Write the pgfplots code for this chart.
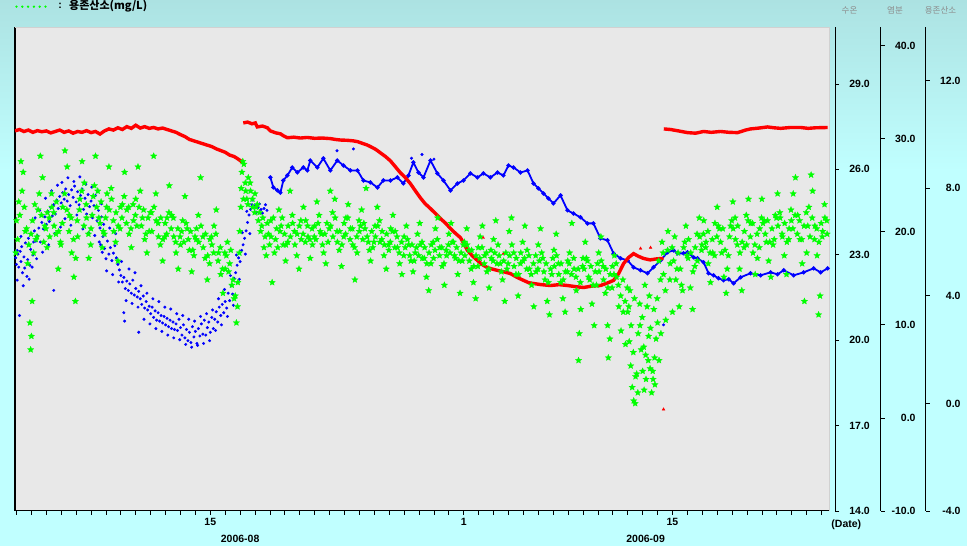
\documentclass[border=0pt]{standalone}
\usepackage{fontspec}
\setmainfont{Liberation Sans}
\newfontfamily\kr{Noto Sans CJK KR}
\usepackage{pgfplots}
\pgfplotsset{compat=1.18}

\definecolor{bgtop}{RGB}{172,226,226}
\definecolor{bgbot}{RGB}{192,255,255}
\definecolor{plotbg}{RGB}{232,232,232}
\definecolor{gcol}{RGB}{0,255,0}
\definecolor{bcol}{RGB}{0,0,255}
\definecolor{rcol}{RGB}{255,0,0}
\newcommand{\tkfont}{\fontsize{10.5}{12}\selectfont\bfseries}

\pgfdeclareplotmark{fstar}{%
  \pgfpathmoveto{\pgfqpoint{0pt}{\pgfplotmarksize}}%
  \pgfpathlineto{\pgfqpoint{-0.265\pgfplotmarksize}{0.364\pgfplotmarksize}}%
  \pgfpathlineto{\pgfqpoint{-0.951\pgfplotmarksize}{0.309\pgfplotmarksize}}%
  \pgfpathlineto{\pgfqpoint{-0.428\pgfplotmarksize}{-0.139\pgfplotmarksize}}%
  \pgfpathlineto{\pgfqpoint{-0.588\pgfplotmarksize}{-0.809\pgfplotmarksize}}%
  \pgfpathlineto{\pgfqpoint{0pt}{-0.45\pgfplotmarksize}}%
  \pgfpathlineto{\pgfqpoint{0.588\pgfplotmarksize}{-0.809\pgfplotmarksize}}%
  \pgfpathlineto{\pgfqpoint{0.428\pgfplotmarksize}{-0.139\pgfplotmarksize}}%
  \pgfpathlineto{\pgfqpoint{0.951\pgfplotmarksize}{0.309\pgfplotmarksize}}%
  \pgfpathlineto{\pgfqpoint{0.265\pgfplotmarksize}{0.364\pgfplotmarksize}}%
  \pgfpathclose
  \pgfusepathqfillstroke}

\pgfplotsset{
  base/.style={at={(0pt,0pt)}, anchor=south west, width=814pt, height=484pt,
    scale only axis, xmin=1.9, xmax=56.5},
  rax/.style={base, hide x axis, axis y line*=right,
    axis line style={-,black,line width=1pt},
    tick align=outside, major tick length=4pt,
    ytick style={black,line width=0.8pt},
    yticklabel style={font=\tkfont, anchor=east, inner sep=0pt, xshift=31pt}},
  gstar/.style={only marks, gcol, mark=fstar, mark size=3.4pt,
    mark options={fill=gcol, draw=gcol, line width=0.2pt}},
}

\begin{document}
\begin{tikzpicture}
\useasboundingbox (-15pt,-35pt) rectangle (952pt,511pt);
\fill[bgbot] (-15pt,-35pt) rectangle (952pt,511pt);
\shade[top color=bgtop, bottom color=bgbot] (-15pt,340pt) rectangle (952pt,511pt);

% frame axis
\begin{axis}[base, clip=false, ymin=14, ymax=31,
  axis x line*=bottom, axis y line*=left,
  axis line style={-,black,line width=1pt},
  axis background/.style={fill=plotbg},
  ytick=\empty, xtick={2,...,56}, xticklabels={},
  tick align=outside, major tick length=4pt,
  xtick style={black,line width=0.8pt},
  extra x ticks={15,32,46}, extra x tick labels={15,1,15},
  xticklabel style={font=\tkfont}]
\draw[black!18] (rel axis cs:0,1) -- (rel axis cs:1,1) -- (rel axis cs:1,0);
\node[font=\tkfont] at ([yshift=-28pt]axis cs:17,14) {2006-08};
\node[font=\tkfont] at ([yshift=-28pt]axis cs:44.2,14) {2006-09};
\end{axis}

% salinity (blue)
\begin{axis}[base, hide axis, ymin=-10, ymax=42]
\addplot[bcol, line width=1.8pt, mark=*, mark size=1.1pt] coordinates {
(19.03,25.84)(19.23,24.76)(19.50,24.44)(19.70,24.2)(19.90,25.51)(20.17,26.05)(20.50,26.91)(20.84,26.37)(21.24,26.91)(21.51,26.59)(21.71,27.66)(22.18,26.91)(22.58,27.88)(23.05,26.59)(23.52,27.66)(23.93,27.12)(24.40,26.59)(24.87,26.59)(25.27,25.51)(25.74,25.30)(26.21,24.76)(26.61,25.51)(27.08,25.51)(27.55,25.84)(27.95,25.19)(28.29,26.05)(28.62,27.45)(28.96,26.37)(29.30,25.84)(29.77,27.66)(30.23,26.27)(30.64,25.51)(31.11,24.44)(31.58,25.19)(31.98,25.51)(32.45,26.27)(32.92,25.84)(33.32,26.27)(33.79,25.84)(34.26,26.37)(34.66,26.05)(35.00,27.12)(35.34,26.91)(35.81,26.37)(36.28,26.59)(36.68,25.19)(37.01,24.66)(37.35,24.12)(37.68,23.58)(38.02,23.05)(38.49,23.91)(38.96,22.30)(39.36,21.97)(39.83,21.55)(40.30,20.90)(40.70,20.90)(41.17,19.29)(41.64,19.08)(42.05,17.68)(42.52,17.15)(42.99,16.93)(43.39,16.18)(43.86,15.86)(44.33,15.54)(44.73,16.18)(45.20,16.93)(45.67,17.79)(46.07,18.00)(46.34,17.68)(46.74,17.68)(47.01,17.79)(47.42,17.25)(47.68,17.15)(48.09,16.72)(48.42,15.54)(48.76,15.32)(49.09,15.0)(49.43,14.79)(49.77,14.9)(50.10,14.46)(50.57,15.11)(51.24,15.54)(51.91,15.32)(52.58,15.64)(53.05,15.43)(53.46,15.86)(54.13,15.32)(54.80,15.64)(55.47,16.07)(55.94,15.64)(56.41,16.07)};
\addplot[only marks, bcol, mark=*, mark size=1.3pt] coordinates {
(1.95,17.2)(2.0,16.5)(2.05,18.0)(2.1,17.6)(2.15,16.2)(2.2,11.0)(2.25,17.9)(2.3,16.8)
(2.35,18.4)(2.4,15.6)(2.5,17.3)(2.55,16.1)(2.6,18.8)(2.7,15.2)(2.75,17.0)(2.8,19.3)(2.9,16.4)(2.95,18.1)(3.0,19.8)(3.1,17.5)(3.15,18.9)(3.2,20.1)(3.3,19.0)
(3.4,19.6)(3.5,20.4)(3.6,18.9)(3.7,21.0)(3.8,20.3)(3.9,21.6)(4.0,20.8)(4.1,22.2)(4.2,21.1)(4.3,22.6)(4.4,21.7)(4.5,22.9)(4.5,13.7)(4.6,21.9)(4.7,23.4)(4.8,22.5)(4.9,23.8)
(5.0,23.1)(5.1,24.2)(5.2,23.5)(5.3,24.6)(5.4,23.3)(5.5,24.0)(5.6,22.8)(5.7,24.5)(5.8,23.7)(5.9,24.9)(6.0,23.2)(6.1,24.3)(6.2,22.9)(6.3,23.9)(6.4,24.6)(6.5,22.4)(6.6,23.6)(6.7,21.9)(6.8,24.0)(6.9,22.7)(7.0,23.3)(7.1,21.5)(7.2,22.8)(7.3,23.9)(7.4,21.2)(7.5,22.3)
(7.6,20.4)(7.65,18.6)(7.7,21.6)(7.75,17.8)(7.8,19.5)(7.9,18.2)(8.0,17.1)(8.1,19.0)(8.2,17.6)(8.3,18.3)(8.4,16.9)(8.5,17.7)(8.6,18.5)(8.7,17.2)(8.8,16.5)(8.9,15.9)
(9.0,15.3)(9.1,14.6)(9.2,15.1)(9.2,11.3)(9.25,10.4)(9.3,13.9)(9.4,14.7)(9.5,13.7)(9.6,14.4)(9.7,13.4)(9.8,14.8)(9.9,13.2)(10.0,13.9)(10.1,13.0)(10.2,13.6)(10.2,9.2)
(10.3,12.8)(10.4,12.2)(10.5,13.1)(10.6,11.8)(10.7,12.5)(10.8,11.6)(10.9,12.0)(11.0,11.2)(11.1,11.9)(11.2,10.8)(11.3,11.5)(11.4,10.5)(11.5,11.3)(11.6,10.4)(11.7,11.0)(11.8,10.2)(11.9,10.9)(12.0,10.0)(12.1,10.7)(12.2,9.8)(12.3,10.5)(12.4,9.6)(12.5,10.3)(12.6,9.5)(12.7,10.1)(12.8,9.4)(12.9,10.6)
(13.0,9.7)(13.1,8.9)(13.2,10.0)(13.3,8.6)(13.4,9.5)(13.5,8.3)(13.6,9.2)(13.7,8.1)(13.8,9.8)(13.9,8.7)(14.0,9.3)(14.1,8.0)(14.2,9.6)
(14.3,8.8)(14.4,10.1)(14.5,9.0)(14.6,10.5)(14.7,8.9)(14.8,9.7)(14.9,10.3)(15.0,9.2)(15.1,10.8)(15.2,9.6)
(15.3,10.6)(15.4,11.4)(15.5,10.3)(15.6,11.9)(15.7,11.0)(15.8,12.2)(15.9,11.3)
(16.0,12.5)(16.1,11.8)(16.2,13.4)(16.3,12.6)(16.4,14.2)(16.5,13.3)(16.6,15.0)
(16.7,15.6)(16.8,16.4)(16.9,17.2)(17.0,16.8)(17.1,18.0)(17.2,18.6)
(17.3,19.3)(17.4,20.1)(17.5,21.0)(17.6,21.8)(17.7,22.4)(17.8,22.9)(17.9,22.6)
(18.0,22.8)(18.2,22.6)(18.4,22.4)(18.6,22.5)(18.8,22.3)
(2.05,14.8)(2.3,19.5)(2.45,14.2)(2.65,20.3)(2.85,14.9)(3.05,16.2)(3.25,21.5)
(3.35,17.1)(3.55,22.3)(3.75,17.8)(3.95,23.6)(4.15,18.6)(4.35,24.4)(4.55,19.8)(4.75,25.0)(4.95,20.5)
(5.05,25.3)(5.25,21.4)(5.45,25.8)(5.65,20.7)(5.85,25.4)(6.05,21.8)(6.25,25.9)(6.45,20.3)(6.65,25.1)(6.85,19.9)(7.05,24.8)(7.25,19.6)(7.45,24.3)(7.55,18.9)
(7.7,23.0)(7.85,20.8)(8.05,15.8)(8.25,20.4)(8.45,15.4)(8.65,19.8)(8.85,14.6)
(9.05,16.8)(9.35,12.6)(9.55,16.0)(9.75,12.3)(9.95,15.6)(10.15,11.9)
(10.35,14.2)(10.55,10.6)(10.75,13.4)(10.95,10.1)(11.15,12.8)(11.35,9.6)(11.55,12.5)(11.75,9.3)(11.95,11.9)(12.15,8.9)(12.35,11.7)(12.55,8.6)(12.75,11.2)(12.95,8.4)
(13.15,11.0)(13.35,7.9)(13.55,10.6)(13.75,7.6)(13.95,10.4)(14.15,7.8)(14.35,10.9)(14.55,8.0)(14.75,11.2)(14.95,8.3)(15.15,11.6)
(15.35,9.4)(15.55,12.8)(15.75,10.0)(15.95,13.8)(16.15,10.9)(16.35,15.3)(16.55,12.1)(16.75,17.5)(16.95,14.9)(17.15,19.9)(17.35,17.6)
(17.45,22.2)(17.65,19.8)(17.85,23.4)(18.1,22.1)(18.3,23.0)(18.5,22.0)(18.7,22.9)
(23.5,28.7)(24.6,28.9)(28.5,27.9)(29.2,28.3)(30.0,27.8)(45.4,10.0)};
\end{axis}

% temperature (red)
\begin{axis}[base, hide axis, ymin=14, ymax=31, unbounded coords=jump]
\addplot[rcol, line width=3.4pt] coordinates {
(1.9,27.35)(2.2,27.40)(2.5,27.33)(2.8,27.38)(3.1,27.30)(3.4,27.36)(3.7,27.32)(4.0,27.35)(4.3,27.28)(4.6,27.33)(4.9,27.38)(5.2,27.30)(5.5,27.35)(5.8,27.27)(6.1,27.33)(6.4,27.30)(6.7,27.36)(7.0,27.29)(7.3,27.33)(7.6,27.24)(7.9,27.35)(8.2,27.42)(8.5,27.38)(8.8,27.46)(9.1,27.40)(9.4,27.50)(9.7,27.44)(10.0,27.55)(10.3,27.45)(10.6,27.50)(10.9,27.44)(11.2,27.47)(11.5,27.42)(11.8,27.45)(12.1,27.40)(12.4,27.35)(12.7,27.30)(13.0,27.22)(13.3,27.15)(13.6,27.05)(13.9,27.00)(14.2,26.95)(14.5,26.90)(14.8,26.85)(15.1,26.80)(15.4,26.72)(15.7,26.66)(16.0,26.60)(16.3,26.50)(16.6,26.45)(16.9,26.35)(17.15,26.25)
(17.18,nan)
(17.21,27.63)(17.5,27.66)(17.8,27.60)(18.02,27.63)(18.15,27.49)(18.5,27.52)(18.83,27.46)(19.03,27.35)(19.4,27.28)(19.7,27.25)(19.9,27.18)(20.17,27.11)(20.6,27.13)(21.04,27.10)(21.5,27.12)(22.0,27.09)(22.5,27.10)(23.05,27.08)(23.4,27.05)(23.72,27.03)(24.2,27.02)(24.6,27.00)(24.9,26.97)(25.27,26.90)(25.5,26.86)(25.74,26.80)(26.1,26.70)(26.41,26.58)(26.75,26.45)(27.08,26.30)(27.4,26.10)(27.75,25.88)(28.1,25.70)(28.42,25.50)(28.75,25.25)(29.09,25.00)(29.4,24.80)(29.77,24.62)(30.1,24.45)(30.44,24.27)(30.8,24.10)(31.11,23.92)(31.45,23.75)(31.78,23.60)(32.0,23.40)(32.25,23.15)(32.6,22.95)(32.92,22.80)(33.25,22.65)(33.59,22.55)(33.9,22.50)(34.26,22.45)(34.7,22.40)(35.13,22.34)(35.6,22.20)(36.01,22.10)(36.35,22.02)(36.68,21.99)(37.2,21.95)(37.82,21.92)(38.4,21.95)(38.96,21.92)(39.5,21.88)(40.03,21.85)(40.6,21.90)(41.17,21.92)(41.6,22.00)(42.05,22.10)(42.4,22.35)(42.72,22.69)(43.05,22.90)(43.39,23.04)(43.7,22.95)(44.06,22.87)(44.5,22.82)(45.0,22.86)(45.40,22.87)
(45.41,nan)
(45.42,27.42)(45.87,27.40)(46.4,27.35)(47.01,27.29)(47.55,27.27)(48.09,27.33)(48.6,27.30)(49.23,27.33)(49.8,27.30)(50.37,27.29)(50.91,27.38)(51.24,27.42)(51.8,27.45)(52.38,27.49)(52.8,27.46)(53.26,27.44)(53.9,27.47)(54.6,27.47)(55.1,27.44)(55.6,27.46)(56.41,27.47)};
\addplot[only marks, rcol, mark=triangle*, mark size=1.6pt] coordinates {
(33.3,23.6)(34.66,23.04)(43.86,23.22)(44.53,23.25)(45.40,17.57)};
\end{axis}

% dissolved oxygen (green)
\begin{axis}[base, hide axis, ymin=-4, ymax=14]
\addplot[gstar] coordinates {
(1.95,5.6)(2.0,6.8)(2.15,7.5)(2.3,9.0)(2.45,8.6)(2.6,6.4)(2.75,5.2)(2.9,3.0)(2.95,2.0)(3.0,2.5)(3.05,3.8)(3.15,5.6)(3.3,6.1)(3.45,7.2)(3.6,9.2)(3.75,8.4)(3.9,6.6)
(4.05,5.8)(4.2,6.9)(4.35,7.8)(4.5,7.1)(4.65,6.3)(4.8,5.0)(4.95,6.0)
(5.1,7.3)(5.25,9.4)(5.4,8.8)(5.55,7.0)(5.7,5.6)(5.85,4.7)(5.95,3.8)
(6.1,6.2)(6.25,7.6)(6.4,9.0)(6.55,8.2)(6.7,6.9)(6.85,5.4)
(7.0,6.5)(7.15,7.7)(7.3,9.2)(7.45,7.9)(7.6,6.7)(7.75,5.8)(7.9,6.3)
(8.05,7.3)(8.2,8.8)(8.35,8.0)(8.5,6.8)(8.65,6.0)(8.8,5.3)(8.95,6.5)
(9.1,7.4)(9.25,8.6)(9.4,7.2)(9.55,6.3)(9.7,5.8)(9.85,6.8)
(10.0,7.6)(10.15,8.8)(10.3,7.9)(10.45,6.9)(10.6,6.1)(10.75,5.6)(10.9,6.4)
(11.05,7.1)(11.2,9.2)(11.35,7.8)(11.5,6.7)(11.65,5.9)(11.8,5.3)(11.95,6.2)
(12.1,6.9)(12.25,8.1)(12.4,7.0)(12.55,6.2)(12.7,5.6)(12.85,5.0)
(13.0,5.9)(13.15,6.8)(13.3,7.7)(13.45,6.5)(13.6,5.7)(13.75,4.9)(13.9,5.5)
(14.05,6.1)(14.2,7.0)(14.35,8.4)(14.5,6.2)(14.65,5.4)(14.8,4.6)(14.95,5.2)
(15.1,5.9)(15.25,6.6)(15.4,7.2)(15.55,5.6)(15.7,4.8)(15.85,4.1)(16.0,5.0)
(16.15,6.0)(16.3,5.2)(16.45,4.4)(16.6,3.9)(16.75,3.0)(16.85,4.5)(16.95,5.6)(17.05,7.3)(17.12,8.6)(17.18,9.0)
(17.25,8.9)(17.35,8.2)(17.45,7.6)(17.55,8.4)(17.7,7.9)(17.85,7.3)
(18.0,7.8)(18.15,7.4)(18.3,7.1)(18.45,6.6)(18.6,5.8)(18.75,5.5)(18.9,6.3)
(19.05,6.8)(19.15,4.5)(19.3,5.6)(19.45,6.5)(19.6,7.2)(19.75,6.6)(19.9,5.9)
(20.05,5.3)(20.2,6.0)(20.35,7.9)(20.5,7.0)(20.65,6.4)(20.8,5.5)(20.95,5.0)
(21.1,6.1)(21.25,7.3)(21.4,6.8)(21.55,6.2)(21.7,5.4)(21.85,5.9)
(22.0,6.6)(22.15,7.5)(22.3,7.0)(22.45,6.3)(22.6,5.6)(22.75,5.2)(22.9,6.0)
(23.05,7.9)(23.2,7.1)(23.35,7.6)(23.5,6.4)(23.65,5.7)(23.8,5.1)(23.95,6.2)
(24.1,6.9)(24.25,7.4)(24.4,6.5)(24.55,5.9)(24.7,4.6)(24.85,5.6)
(25.0,6.4)(25.15,7.2)(25.3,6.7)(25.45,8.0)(25.6,6.0)(25.75,5.3)(25.9,5.8)
(26.05,6.6)(26.2,7.3)(26.35,6.8)(26.5,6.1)(26.65,5.5)(26.8,5.0)(26.95,5.9)
(27.1,6.5)(27.25,7.0)(27.4,6.4)(27.55,5.8)(27.7,5.2)(27.85,4.8)
(28.0,6.2)(28.15,6.6)(28.3,5.9)(28.45,5.3)(28.6,4.9)(28.75,5.6)(28.9,6.3)
(29.05,6.7)(29.2,6.0)(29.35,5.4)(29.5,4.7)(29.65,4.2)(29.8,5.2)(29.95,6.0)
(30.1,6.5)(30.25,6.9)(30.4,5.8)(30.55,5.1)(30.7,4.4)(30.85,5.5)
(31.0,6.3)(31.15,6.7)(31.3,6.0)(31.45,5.4)(31.6,4.8)(31.75,4.1)(31.9,5.3)
(32.05,6.0)(32.2,6.5)(32.35,5.7)(32.5,5.0)(32.65,4.5)(32.8,3.9)(32.95,5.1)
(33.1,6.2)(33.25,6.6)(33.4,5.5)(33.55,4.9)(33.7,4.3)(33.85,5.4)
(34.0,6.1)(34.15,6.8)(34.3,5.9)(34.45,5.2)(34.6,4.6)(34.75,3.8)(34.9,5.0)
(35.05,6.4)(35.2,6.9)(35.35,5.6)(35.5,4.8)(35.65,4.0)(35.8,5.2)(35.95,6.0)
(36.1,6.6)(36.25,5.7)(36.4,5.0)(36.55,4.4)(36.7,3.6)(36.85,4.9)
(37.0,5.9)(37.15,6.5)(37.3,5.4)(37.45,4.6)(37.6,3.8)(37.75,3.3)(37.9,4.8)
(38.05,5.7)(38.2,6.3)(38.35,5.2)(38.5,4.5)(38.65,3.9)(38.8,3.4)(38.95,4.9)
(39.1,5.6)(39.25,6.7)(39.4,5.0)(39.55,4.2)(39.7,1.6)(39.75,2.6)(39.85,3.5)
(40.0,5.4)(40.15,6.0)(40.3,5.3)(40.45,4.6)(40.6,3.7)(40.75,2.9)(40.9,4.4)
(41.05,5.6)(41.2,6.2)(41.35,5.1)(41.5,4.1)(41.65,2.9)(41.7,1.7)(41.8,2.4)(41.95,4.3)
(42.1,5.5)(42.25,4.7)(42.4,3.6)(42.55,2.7)(42.7,3.4)(42.85,2.2)
(43.0,3.4)(43.1,2.3)(43.15,4.2)(43.2,1.4)(43.3,0.6)(43.4,0.1)(43.45,3.9)(43.5,0.0)(43.6,1.1)(43.7,2.6)(43.8,3.7)(43.9,2.0)
(44.0,1.2)(44.1,0.5)(44.15,4.4)(44.2,1.8)(44.3,3.6)(44.4,2.5)(44.45,4.0)(44.5,1.3)(44.6,0.4)(44.7,0.9)(44.75,3.5)(44.8,1.7)(44.9,2.4)
(45.0,3.0)(45.1,1.6)(45.2,4.6)(45.3,6.0)(45.4,4.8)(45.55,3.1)(45.7,6.4)(45.85,5.2)(46.0,3.4)
(46.15,6.2)(46.3,5.0)(46.45,3.6)(46.6,4.4)(46.75,5.8)(46.9,6.6)
(47.05,5.4)(47.2,4.3)(47.35,3.5)(47.5,5.1)(47.65,6.3)(47.8,6.9)(47.95,5.7)
(48.1,6.8)(48.25,6.0)(48.4,5.2)(48.55,4.5)(48.7,5.6)(48.85,6.7)
(49.0,7.3)(49.15,6.5)(49.3,5.6)(49.45,4.7)(49.6,4.1)(49.75,5.5)(49.9,6.6)
(50.05,7.5)(50.2,6.9)(50.35,5.9)(50.5,5.0)(50.65,4.2)(50.8,5.8)(50.95,7.0)
(51.1,7.6)(51.25,6.7)(51.4,5.6)(51.55,4.8)(51.7,5.4)(51.85,6.5)
(52.0,7.6)(52.15,6.8)(52.3,6.0)(52.45,5.3)(52.6,4.7)(52.75,5.9)(52.9,7.0)
(53.05,7.8)(53.2,7.1)(53.35,6.3)(53.5,5.5)(53.65,4.8)(53.8,6.1)(53.95,7.2)
(54.1,7.8)(54.25,8.4)(54.4,7.0)(54.55,6.1)(54.7,5.2)(54.85,3.8)(55.0,5.6)
(55.15,7.3)(55.3,8.5)(55.4,7.9)(55.55,6.6)(55.7,5.5)(55.8,3.3)(55.9,4.0)
(56.05,6.2)(56.2,7.4)(56.35,6.8)};
\addplot[gstar] coordinates {
(2.075,6.1)(2.225,7.0)(2.375,7.9)(2.525,7.3)(2.675,6.5)(2.825,5.9)(2.975,6.3)
(3.075,6.8)(3.225,7.4)(3.375,6.2)(3.525,7.8)(3.675,7.0)(3.825,6.0)(3.975,6.5)
(4.075,7.1)(4.225,6.2)(4.375,7.3)(4.525,6.6)(4.675,7.5)(4.825,6.4)(4.975,5.9)
(5.075,6.7)(5.225,7.8)(5.375,7.2)(5.525,6.4)(5.675,6.9)(5.825,6.1)(5.975,5.4)
(6.075,6.8)(6.225,7.2)(6.375,7.9)(6.525,6.6)(6.675,7.4)(6.825,6.3)(6.975,5.9)
(7.075,7.0)(7.225,8.1)(7.375,7.3)(7.525,6.9)(7.675,7.5)(7.825,6.4)(7.975,6.9)
(8.075,7.8)(8.225,7.2)(8.375,7.6)(8.525,6.4)(8.675,7.1)(8.825,6.6)(8.975,7.3)
(9.075,6.9)(9.225,7.7)(9.375,6.7)(9.525,7.3)(9.675,6.5)(9.825,7.4)(9.975,7.0)
(10.075,6.6)(10.225,7.3)(10.375,6.6)(10.525,7.2)(10.675,6.3)(10.825,6.9)(10.975,7.1)
(11.075,6.4)(11.225,7.3)(11.375,6.8)(11.525,6.2)(11.675,6.9)(11.825,6.1)(11.975,6.7)
(12.075,6.3)(12.225,7.1)(12.375,6.5)(12.525,6.9)(12.675,6.0)(12.825,6.5)(12.975,6.2)
(13.075,6.4)(13.225,6.0)(13.375,6.7)(13.525,6.1)(13.675,6.4)(13.825,5.7)(13.975,6.2)
(14.075,6.5)(14.225,6.0)(14.375,6.6)(14.525,5.8)(14.675,6.3)(14.825,5.5)(14.975,6.1)
(15.075,6.2)(15.225,5.6)(15.375,6.3)(15.525,5.3)(15.675,5.8)(15.825,5.0)(15.975,5.6)
(16.075,5.5)(16.225,4.9)(16.375,5.7)(16.525,4.6)(16.675,4.0)(16.825,3.6)(16.975,6.4)
(17.075,8.0)(17.225,7.6)(17.375,7.9)(17.525,7.4)(17.675,8.2)(17.825,7.6)(17.975,7.1)
(18.075,7.3)(18.225,6.8)(18.375,6.4)(18.525,6.9)(18.675,6.2)(18.825,6.7)(18.975,5.9)
(19.075,6.2)(19.225,6.9)(19.375,6.1)(19.525,5.8)(19.675,6.4)(19.825,6.9)(19.975,6.3)
(20.075,5.9)(20.225,6.6)(20.375,6.2)(20.525,6.7)(20.675,5.9)(20.825,6.3)(20.975,6.6)
(21.075,6.8)(21.225,6.3)(21.375,6.0)(21.525,6.6)(21.675,6.1)(21.825,6.5)(21.975,6.2)
(22.075,6.1)(22.225,6.7)(22.375,6.4)(22.525,5.9)(22.675,6.3)(22.825,6.7)(22.975,6.5)
(23.075,6.6)(23.225,6.2)(23.375,6.9)(23.525,6.0)(23.675,6.4)(23.825,5.9)(23.975,6.7)
(24.075,6.3)(24.225,6.9)(24.375,6.1)(24.525,6.5)(24.675,5.8)(24.825,6.2)(24.975,6.8)
(25.075,6.6)(25.225,6.1)(25.375,6.5)(25.525,6.2)(25.675,5.7)(25.825,6.4)(25.975,6.0)
(26.075,6.2)(26.225,6.6)(26.375,6.0)(26.525,6.4)(26.675,5.9)(26.825,6.3)(26.975,5.7)
(27.075,6.0)(27.225,6.4)(27.375,5.8)(27.525,6.2)(27.675,5.6)(27.825,6.0)(27.975,5.5)
(28.075,5.8)(28.225,6.1)(28.375,5.5)(28.525,5.9)(28.675,5.3)(28.825,5.8)(28.975,5.5)
(29.075,5.9)(29.225,5.4)(29.375,5.8)(29.525,5.2)(29.675,5.6)(29.825,5.9)(29.975,5.4)
(30.075,5.7)(30.225,6.1)(30.375,5.5)(30.525,5.8)(30.675,5.2)(30.825,5.7)(30.975,5.9)
(31.075,5.6)(31.225,6.0)(31.375,5.5)(31.525,5.8)(31.675,5.3)(31.825,5.6)(31.975,5.9)
(32.075,5.5)(32.225,5.9)(32.375,5.3)(32.525,5.7)(32.675,5.1)(32.825,5.5)(32.975,5.8)
(33.075,5.4)(33.225,5.8)(33.375,5.2)(33.525,5.6)(33.675,5.0)(33.825,5.7)(33.975,5.3)
(34.075,5.6)(34.225,5.2)(34.375,5.5)(34.525,4.9)(34.675,5.3)(34.825,5.6)(34.975,5.2)
(35.075,5.5)(35.225,5.9)(35.375,5.1)(35.525,5.4)(35.675,4.8)(35.825,5.6)(35.975,5.3)
(36.075,5.4)(36.225,5.0)(36.375,5.5)(36.525,4.8)(36.675,5.2)(36.825,5.5)(36.975,5.0)
(37.075,5.3)(37.225,5.6)(37.375,4.9)(37.525,5.2)(37.675,4.5)(37.825,5.0)(37.975,5.4)
(38.075,5.1)(38.225,5.5)(38.375,4.8)(38.525,5.2)(38.675,4.6)(38.825,4.9)(38.975,5.3)
(39.075,5.2)(39.225,4.8)(39.375,5.4)(39.525,4.7)(39.675,5.0)(39.825,4.5)(39.975,5.1)
(40.075,5.0)(40.225,5.4)(40.375,4.7)(40.525,5.1)(40.675,4.4)(40.825,4.9)(40.975,5.2)
(41.075,4.9)(41.225,5.3)(41.375,4.6)(41.525,5.0)(41.675,4.3)(41.825,4.8)(41.975,5.1)
(42.075,4.8)(42.225,5.2)(42.375,4.4)(42.525,4.0)(42.675,4.6)(42.825,3.8)(42.975,4.3)
(43.075,3.6)(43.225,2.9)(43.375,1.9)(43.525,1.0)(43.675,0.4)(43.825,2.9)(43.975,3.2)
(44.075,2.1)(44.225,0.9)(44.375,1.6)(44.525,2.8)(44.675,1.2)(44.825,0.7)(44.975,3.9)
(45.075,5.3)(45.225,2.6)(45.375,5.6)(45.525,4.2)(45.675,5.7)(45.825,4.6)(45.975,5.8)
(46.075,5.3)(46.225,4.6)(46.375,5.6)(46.525,5.0)(46.675,4.2)(46.825,6.0)(46.975,5.5)
(47.075,6.1)(47.225,5.6)(47.375,4.9)(47.525,5.8)(47.675,5.3)(47.825,6.2)(47.975,5.9)
(48.075,6.3)(48.225,5.8)(48.375,6.4)(48.525,5.6)(48.675,6.1)(48.825,5.5)(48.975,6.2)
(49.075,6.6)(49.225,6.0)(49.375,6.5)(49.525,5.7)(49.675,5.0)(49.825,6.2)(49.975,6.8)
(50.075,6.5)(50.225,6.1)(50.375,6.6)(50.525,5.6)(50.675,6.0)(50.825,6.4)(50.975,5.9)
(51.075,6.8)(51.225,6.2)(51.375,6.7)(51.525,5.9)(51.675,6.3)(51.825,5.8)(51.975,6.9)
(52.075,6.7)(52.225,6.3)(52.375,6.8)(52.525,6.0)(52.675,6.5)(52.825,6.1)(52.975,6.9)
(53.075,6.6)(53.225,6.9)(53.375,6.2)(53.525,6.7)(53.675,6.0)(53.825,6.5)(53.975,6.8)
(54.075,6.5)(54.225,7.0)(54.375,6.3)(54.525,6.8)(54.675,6.1)(54.825,6.6)(54.975,7.1)
(55.075,6.6)(55.225,6.2)(55.375,6.9)(55.525,6.1)(55.675,6.5)(55.825,6.0)(55.975,6.7)
(56.075,6.4)(56.225,6.9)(56.375,6.3)};
\end{axis}

% right-hand axes
\begin{axis}[rax, at={(6pt,0pt)}, ymin=14, ymax=31,
  ytick={14,17,20,23,26,29}, yticklabels={14.0,17.0,20.0,23.0,26.0,29.0}]
\end{axis}
\begin{axis}[rax, at={(51.7pt,0pt)}, ymin=-10, ymax=42,
  ytick={-10,0,10,20,30,40}, yticklabels={-10.0,0.0,10.0,20.0,30.0,40.0}]
\end{axis}
\begin{axis}[rax, at={(96.7pt,0pt)}, ymin=-4, ymax=14,
  ytick={-4,0,4,8,12}, yticklabels={-4.0,0.0,4.0,8.0,12.0}]
\end{axis}

% texts
\node[font=\tkfont] at (831.3pt,-14pt) {(Date)};
\node[font=\kr\fontsize{8.5}{9}\selectfont, text=black!45] at (834.5pt,501pt) {수온};
\node[font=\kr\fontsize{8.5}{9}\selectfont, text=black!45] at (880pt,501pt) {염분};
\node[font=\kr\fontsize{8.5}{9}\selectfont, text=black!45] at (925.5pt,501pt) {용존산소};
\draw[gcol, line width=2.6pt, line cap=round, dash pattern=on 0pt off 5.8pt] (1.5pt,504.3pt) -- (31pt,504.3pt);
\node[font=\tkfont] at (45pt,505pt) {:};
\node[anchor=west, inner sep=0pt, font=\kr\bfseries\fontsize{11}{12}\selectfont] at (54pt,505pt) {용존산소(mg/L)};
\end{tikzpicture}
\end{document}
